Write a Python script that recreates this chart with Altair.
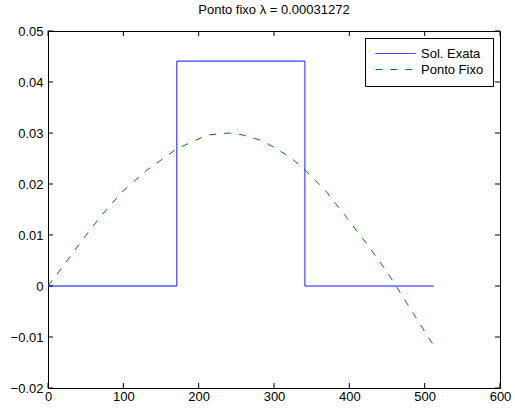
import altair as alt
import pandas as pd

# ---- data ----
series_names = ["Sol. Exata", "Ponto Fixo"]

x_exact = [0, 171, 171, 341, 341, 512]
y_exact = [0.0, 0.0, 0.0441, 0.0441, 0.0, 0.0]

x_fixo = [0, 16, 42, 69, 98, 131, 171, 211, 240, 259, 286, 321, 341, 370, 396, 423, 450, 462, 485, 509, 512]
y_fixo = [0.0, 0.0031, 0.0083, 0.0135, 0.0184, 0.0227, 0.0269, 0.0296, 0.0300, 0.0296, 0.0284,
          0.0253, 0.0228, 0.0184, 0.0135, 0.0083, 0.0028, 0.0, -0.0054, -0.0110, -0.0115]

x_ticks = [0, 100, 200, 300, 400, 500, 600]
y_ticks = [-0.02, -0.01, 0.0, 0.01, 0.02, 0.03, 0.04, 0.05]

title_text = "Ponto fixo \u03bb = 0.00031272"

df_e = pd.DataFrame({"x": x_exact, "y": y_exact, "s": series_names[0], "o": list(range(len(x_exact)))})
df_f = pd.DataFrame({"x": x_fixo, "y": y_fixo, "s": series_names[1], "o": list(range(len(x_fixo)))})
df = pd.concat([df_e, df_f], ignore_index=True)
df_xt = pd.DataFrame({"v": x_ticks})
df_yt = pd.DataFrame({"v": y_ticks})

W, H = 452, 357
TICK = 5
FONT = "Liberation Sans"
FS = 13

xs = alt.Scale(domain=[0, 600], nice=False, zero=False)
ys = alt.Scale(domain=[-0.02, 0.05], nice=False, zero=False)

leg = alt.Legend(
    orient="none", legendX=317, legendY=7, title=None,
    strokeColor="black", fillColor="white", padding=9,
    symbolType="M-1,0H7", symbolSize=100, symbolStrokeWidth=1,
    symbolOffset=0, labelOffset=34, rowPadding=2,
    labelFont=FONT, labelFontSize=FS, labelColor="black",
)

color = alt.Color("s:N", scale=alt.Scale(domain=series_names, range=["#0000ff", "#008000"]), legend=leg)
dash = alt.StrokeDash("s:N", scale=alt.Scale(domain=series_names, range=[[1, 0], [7, 8]]), legend=leg)

label_x_axis = alt.Axis(values=x_ticks, ticks=False, domain=False, grid=False,
                        title=None, labelPadding=2, labelFont=FONT, labelFontSize=FS,
                        labelColor="black", format="d", labelFlush=False, labelOverlap=False)
label_y_axis = alt.Axis(values=y_ticks, ticks=False, domain=False, grid=False,
                        title=None, labelPadding=5, labelFont=FONT, labelFontSize=FS,
                        labelColor="black", labelFlush=False, labelOverlap=False,
                        labelExpr="datum.value == 0 ? '0' : format(datum.value, '.2f')")

lines = alt.Chart(df).mark_line(strokeWidth=1, clip=True).encode(
    x=alt.X("x:Q", scale=xs, axis=label_x_axis),
    y=alt.Y("y:Q", scale=ys, axis=label_y_axis),
    color=color,
    strokeDash=dash,
    order="o:Q",
)

# inward ticks on all four sides (MATLAB style), positioned through the shared scales
xt = alt.Chart(df_xt).mark_rule(color="black", strokeWidth=1)
yt = alt.Chart(df_yt).mark_rule(color="black", strokeWidth=1)
ticks_bottom = xt.encode(x=alt.X("v:Q", scale=xs), y=alt.value(H), y2=alt.value(H - TICK))
ticks_top = xt.encode(x=alt.X("v:Q", scale=xs), y=alt.value(0), y2=alt.value(TICK))
ticks_left = yt.encode(y=alt.Y("v:Q", scale=ys), x=alt.value(0), x2=alt.value(TICK))
ticks_right = yt.encode(y=alt.Y("v:Q", scale=ys), x=alt.value(W), x2=alt.value(W - TICK))

chart = alt.layer(ticks_bottom, ticks_top, ticks_left, ticks_right, lines).properties(
    width=W, height=H,
    title=alt.TitleParams(title_text, font=FONT, fontSize=FS, fontWeight="normal",
                          color="black", offset=8, anchor="middle"),
    autosize=alt.AutoSizeParams(type="none"),
    padding={"left": 48, "top": 31, "right": 15, "bottom": 23},
    background="white",
).configure_view(stroke="black", strokeWidth=1)

chart.save("out.html", embed_options={"renderer": "svg", "actions": False})
